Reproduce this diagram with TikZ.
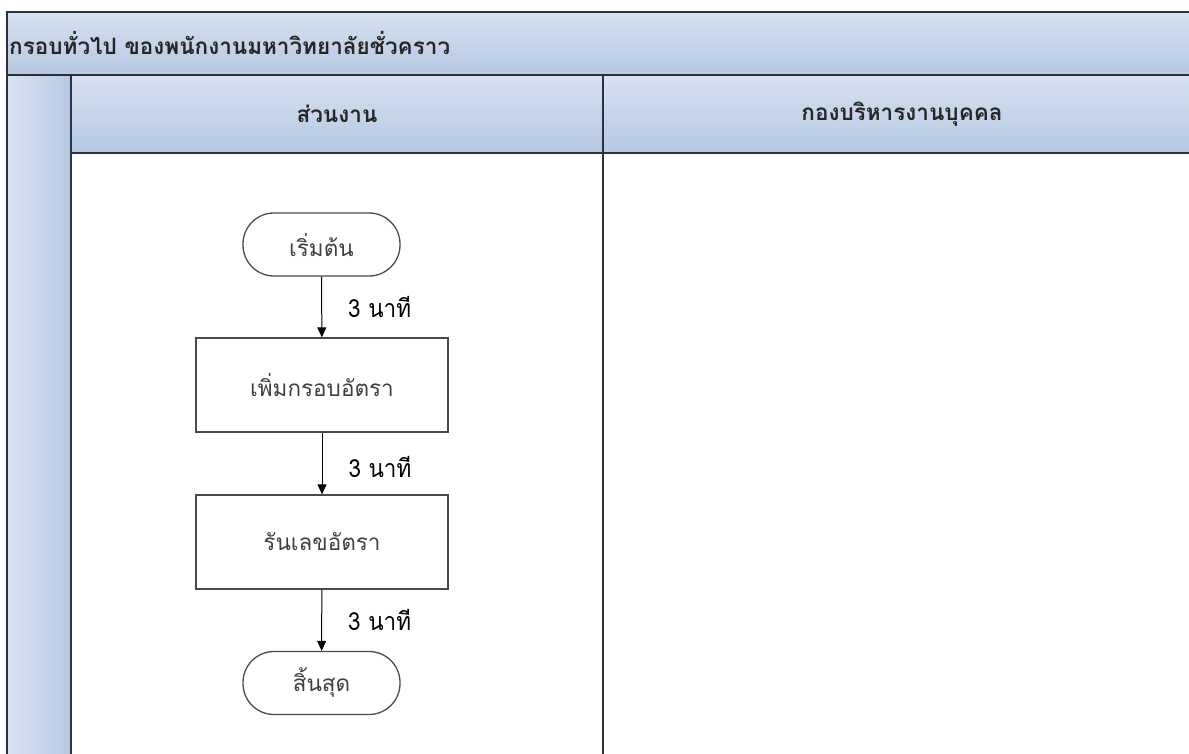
\documentclass[tikz,border=0pt]{standalone}
\usepackage{fontspec}
\newfontfamily\thai[Script=Thai]{Loma}
\newfontfamily\thaicond[Script=Thai, FakeStretch=0.9]{Loma}
\usetikzlibrary{arrows.meta}
\definecolor{frameline}{HTML}{2B313D}
\definecolor{bandlight}{HTML}{D6E1F0}
\definecolor{banddark}{HTML}{B6C8E2}
\definecolor{boxline}{HTML}{4A4A4A}
\tikzset{
  frame/.style={draw=frameline, line width=2pt},
  termbox/.style={draw=boxline, line width=1.3pt, rectangle, rounded corners=31pt,
    minimum width=157pt, minimum height=63pt, font=\thai\fontsize{22.5}{26}\selectfont, text=black!75},
  procbox/.style={draw=boxline, line width=1.3pt, rectangle,
    minimum width=252pt, minimum height=94pt, font=\thai\fontsize{22.5}{26}\selectfont, text=black!75},
  flow/.style={draw=black, line width=1pt, -{Triangle[length=10pt,width=9pt]}},
  timelabel/.style={anchor=west, font=\thaicond\fontsize{25}{28}\selectfont, inner sep=0pt},
  headtext/.style={font=\thai\bfseries\fontsize{22.5}{26}\selectfont, text=black!85},
}
\begin{document}
\begin{tikzpicture}[x=1pt,y=-1pt]
\useasboundingbox (0,0) rectangle (1189,754);
% background bands
\shade[top color=bandlight, bottom color=banddark] (7,12) rectangle (1200,75);
\shade[top color=bandlight, bottom color=banddark] (71,75) rectangle (1201,153);
\shade[left color=bandlight!90!white, right color=banddark] (7,75) rectangle (71,760);
% frame lines
\draw[frame] (1200,12) -- (7,12) -- (7,760);
\draw[frame] (7,75) -- (1200,75);
\draw[frame] (71,75) -- (71,760);
\draw[frame] (603,75) -- (603,760);
\draw[frame] (71,153) -- (1200,153);
% titles
\node[headtext, anchor=west, inner sep=0pt] (title) at (9,43) {กรอบทั่วไป ของพนักงานมหาวิทยาลัยชั่วคราว};
\node[headtext] (lane1) at (337,114) {ส่วนงาน};
\node[headtext] (lane2) at (902,114) {กองบริหารงานบุคคล};
% flow
\node[termbox] (start) at (321.5,244.5) {เริ่มต้น};
\node[procbox] (add) at (322,385) {เพิ่มกรอบอัตรา};
\node[procbox] (run) at (322,542) {รันเลขอัตรา};
\node[termbox] (stop) at (321.5,683) {สิ้นสุด};
\draw[flow] (start) -- (add) node[timelabel, pos=0.5, xshift=26pt] (t1) {3 นาที};
\draw[flow] (add) -- (run) node[timelabel, pos=0.55, xshift=26pt] (t2) {3 นาที};
\draw[flow] (run) -- (stop) node[timelabel, pos=0.5, xshift=26pt] (t3) {3 นาที};
\end{tikzpicture}
\end{document}
